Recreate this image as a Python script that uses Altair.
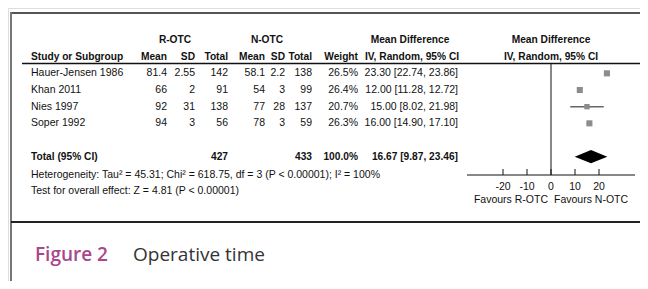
import altair as alt
import pandas as pd

# ---------------- data ----------------
studies = ["Hauer-Jensen 1986", "Khan 2011", "Nies 1997", "Soper 1992"]
r_mean = [81.4, 66, 92, 94]
r_sd = [2.55, 2, 31, 3]
r_total = [142, 91, 138, 56]
n_mean = [58.1, 54, 77, 78]
n_sd = [2.2, 3, 28, 3]
n_total = [138, 99, 137, 59]
weights = [26.5, 26.4, 20.7, 26.3]
md = [23.30, 12.00, 15.00, 16.00]
ci_lo = [22.74, 11.28, 8.02, 14.90]
ci_hi = [23.86, 12.72, 21.98, 17.10]

total_r = 427
total_n = 433
total_weight = 100.0
total_md = 16.67
total_lo = 9.87
total_hi = 23.46

heterogeneity = "Heterogeneity: Tau\u00b2 = 45.31; Chi\u00b2 = 618.75, df = 3 (P < 0.00001); I\u00b2 = 100%"
overall = "Test for overall effect: Z = 4.81 (P < 0.00001)"
tick_values = [-20, -10, 0, 10, 20]
favours = ["Favours R-OTC", "Favours N-OTC"]
caption_label = "Figure 2"
caption_text = "Operative time"

# ---------------- layout ----------------
W, H = 632, 273
FONT = "Liberation Sans Narrow, Arial Narrow, Liberation Sans, Arial, sans-serif"
FS = 10.5
FSB = 10.2
study_rows = [2, 3, 4, 5]
TOTAL_ROW, HET_ROW, TEST_ROW = 7, 8.1, 9.05

yscale = alt.Scale(domain=[0, 9], range=[32, 182])
xscale = alt.Scale(domain=[-35, 35], range=[459, 627])
Y = lambda: alt.Y("row:Q", scale=yscale, axis=None)
X = lambda f: alt.X(f, scale=xscale, axis=None)

def fmt(v):
    return f"{v:g}"

rows = pd.DataFrame({
    "row": study_rows,
    "study": studies,
    "rm": [fmt(v) for v in r_mean],
    "rsd": [fmt(v) for v in r_sd],
    "rt": [str(v) for v in r_total],
    "nm": [fmt(v) for v in n_mean],
    "nsd": [fmt(v) for v in n_sd],
    "nt": [str(v) for v in n_total],
    "w": [f"{v:.1f}%" for v in weights],
    "ci": [f"{m:.2f} [{l:.2f}, {h:.2f}]" for m, l, h in zip(md, ci_lo, ci_hi)],
    "md": md, "lo": ci_lo, "hi": ci_hi, "weight": weights,
})

layers = []

def col_text(df, field, x, align, bold=False):
    return alt.Chart(df).mark_text(
        align=align, baseline="middle", font=FONT, fontSize=FSB if bold else FS,
        fontWeight="bold" if bold else "normal", color="#111"
    ).encode(x=alt.value(x), y=Y(), text=alt.Text(f"{field}:N"))

# study rows
for field, x, align in [("study", 23, "left"), ("rm", 159, "right"), ("rsd", 187, "right"),
                        ("rt", 220, "right"), ("nm", 257, "right"), ("nsd", 277, "right"),
                        ("nt", 304, "right"), ("w", 350, "right"), ("ci", 450, "right")]:
    layers.append(col_text(rows, field, x, align))

# headers
hdr = pd.DataFrame([
    {"row": 0, "t": "R-OTC", "x": 167, "a": "center"},
    {"row": 0, "t": "N-OTC", "x": 259, "a": "center"},
    {"row": 0, "t": "Mean Difference", "x": 402, "a": "center"},
    {"row": 0, "t": "Mean Difference", "x": 543, "a": "center"},
    {"row": 1, "t": "Study or Subgroup", "x": 23, "a": "left"},
    {"row": 1, "t": "Mean", "x": 159, "a": "right"},
    {"row": 1, "t": "SD", "x": 187, "a": "right"},
    {"row": 1, "t": "Total", "x": 220, "a": "right"},
    {"row": 1, "t": "Mean", "x": 257, "a": "right"},
    {"row": 1, "t": "SD", "x": 277, "a": "right"},
    {"row": 1, "t": "Total", "x": 304, "a": "right"},
    {"row": 1, "t": "Weight", "x": 350, "a": "right"},
    {"row": 1, "t": "IV, Random, 95% CI", "x": 404, "a": "center"},
    {"row": 1, "t": "IV, Random, 95% CI", "x": 543, "a": "center"},
])
for i in range(len(hdr)):
    r = hdr.iloc[i]
    layers.append(col_text(hdr.iloc[[i]], "t", int(r.x), r.a, bold=True))

# total row
tot = pd.DataFrame([
    {"row": TOTAL_ROW, "t": "Total (95% CI)", "x": 23, "a": "left"},
    {"row": TOTAL_ROW, "t": str(total_r), "x": 220, "a": "right"},
    {"row": TOTAL_ROW, "t": str(total_n), "x": 304, "a": "right"},
    {"row": TOTAL_ROW, "t": f"{total_weight:.1f}%", "x": 350, "a": "right"},
    {"row": TOTAL_ROW, "t": f"{total_md:.2f} [{total_lo:.2f}, {total_hi:.2f}]", "x": 450, "a": "right"},
])
for i in range(len(tot)):
    r = tot.iloc[i]
    layers.append(col_text(tot.iloc[[i]], "t", int(r.x), r.a, bold=True))

stats = pd.DataFrame({"row": [HET_ROW, TEST_ROW], "t": [heterogeneity, overall]})
layers.append(col_text(stats, "t", 23, "left"))

one = pd.DataFrame({"a": [0]})

# frame lines
layers.append(alt.Chart(one).mark_rule(color="#555", strokeWidth=2).encode(
    x=alt.value(3), x2=alt.value(W), y=alt.value(5)))
layers.append(alt.Chart(one).mark_rule(color="#777", strokeWidth=2).encode(
    x=alt.value(3), y=alt.value(4), y2=alt.value(H)))
layers.append(alt.Chart(one).mark_rule(color="#222", strokeWidth=2).encode(
    x=alt.value(3), x2=alt.value(W), y=alt.value(214)))
layers.append(alt.Chart(one).mark_rule(color="#111", strokeWidth=1.5).encode(
    x=alt.value(14), x2=alt.value(W), y=alt.value(55.5)))

# forest: zero line, axis
zero = pd.DataFrame({"v": [0]})
layers.append(alt.Chart(zero).mark_rule(color="#111", strokeWidth=1).encode(
    x=X("v:Q"), y=alt.value(55.5), y2=alt.value(167)))
ax = pd.DataFrame({"v": [xscale.domain[0]], "v2": [xscale.domain[1]]})
layers.append(alt.Chart(ax).mark_rule(color="#111", strokeWidth=1).encode(
    x=X("v:Q"), x2="v2:Q", y=alt.value(167)))
ticks = pd.DataFrame({"v": tick_values, "lab": [str(t) for t in tick_values]})
layers.append(alt.Chart(ticks).mark_rule(color="#111", strokeWidth=1).encode(
    x=X("v:Q"), y=alt.value(161), y2=alt.value(167)))
layers.append(alt.Chart(ticks).mark_text(font=FONT, fontSize=FS, color="#111", baseline="middle").encode(
    x=X("v:Q"), y=alt.value(179), text="lab:N"))
fav = pd.DataFrame({"v": [0, 0], "t": favours})
layers.append(alt.Chart(fav.iloc[[0]]).mark_text(font=FONT, fontSize=FS, color="#111", align="right", dx=-3, baseline="middle").encode(
    x=X("v:Q"), y=alt.value(192), text="t:N"))
layers.append(alt.Chart(fav.iloc[[1]]).mark_text(font=FONT, fontSize=FS, color="#111", align="left", dx=3, baseline="middle").encode(
    x=X("v:Q"), y=alt.value(192), text="t:N"))

# CIs and squares
layers.append(alt.Chart(rows).mark_rule(color="#666", strokeWidth=1.5).encode(
    x=X("lo:Q"), x2="hi:Q", y=Y()))
layers.append(alt.Chart(rows).mark_square(color="#8c8c8c", opacity=1).encode(
    x=X("md:Q"), y=Y(),
    size=alt.Size("weight:Q", scale=alt.Scale(domain=[0, 30], range=[0, 42]), legend=None)))

# diamond
hh = 0.4
dia = pd.DataFrame({
    "v": [total_lo, total_md, total_hi],
    "row": [TOTAL_ROW, TOTAL_ROW - hh, TOTAL_ROW],
    "row2": [TOTAL_ROW, TOTAL_ROW + hh, TOTAL_ROW],
})
layers.append(alt.Chart(dia).mark_area(color="black", opacity=1).encode(
    x=X("v:Q"), y=Y(), y2="row2:Q"))

# caption
cap = pd.DataFrame({"t": [caption_label], "t2": [caption_text]})
layers.append(alt.Chart(cap).mark_text(font="Open Sans", fontSize=19, fontWeight=600, color="#a8478b",
                                       align="left", baseline="middle").encode(
    x=alt.value(27), y=alt.value(247), text="t:N"))
layers.append(alt.Chart(cap).mark_text(font="Open Sans", fontSize=19, color="#333",
                                       align="left", baseline="middle").encode(
    x=alt.value(125), y=alt.value(247), text="t2:N"))

chart = alt.layer(*layers).properties(
    width=W, height=H, padding=0, autosize=alt.AutoSizeParams(type="none")
).configure_view(stroke=None).configure(background="white")

chart.save("out.html", embed_options={"renderer": "svg", "actions": False})
